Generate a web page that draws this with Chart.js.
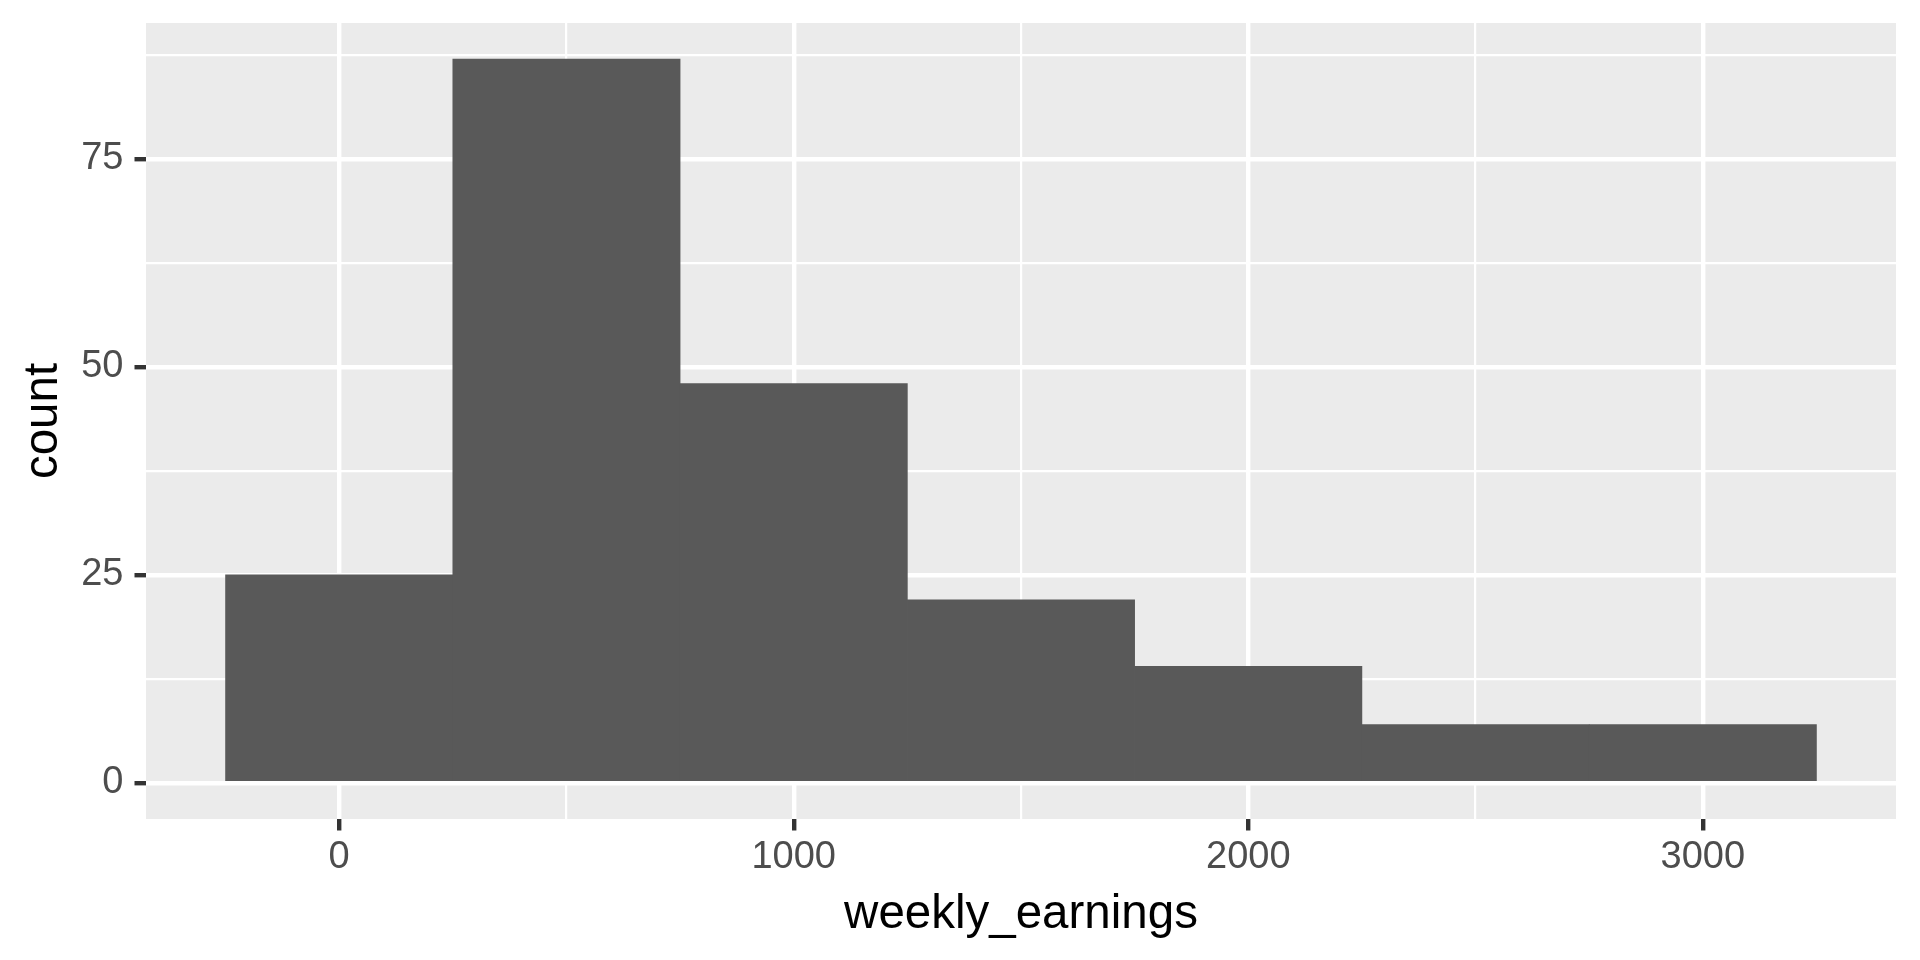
<!DOCTYPE html>
<html>
<head>
<meta charset="utf-8">
<title>weekly_earnings histogram</title>
<script src="https://cdn.jsdelivr.net/npm/chart.js@4.4.1/dist/chart.umd.min.js"></script>
<style>
	html, body { margin: 0; padding: 0; background: #ffffff; }
	#wrap { width: 1920px; height: 960px; }
</style>
</head>
<body>
<div id="wrap"><canvas id="chart-hist" width="1920" height="960"></canvas></div>
<script>
// Histogram bins (binwidth 500)
const BIN_WIDTH = 500;
const binCenters = [0, 500, 1000, 1500, 2000, 2500, 3000];
const binCounts = [25, 87, 48, 22, 14, 7, 7];

// Axis breaks
const xMajor = [0, 1000, 2000, 3000];
const xMinor = [500, 1500, 2500];
const yMajor = [0, 25, 50, 75];
const yMinor = [12.5, 37.5, 62.5, 87.5];

const FONT = "'Liberation Sans', Arial, sans-serif";
const PANEL_BG = "#EBEBEB";
const BAR_FILL = "#595959";

// ggplot-style 5% expansion of the data range
const xLo = binCenters[0] - BIN_WIDTH / 2;
const xHi = binCenters[binCenters.length - 1] + BIN_WIDTH / 2;
const xPad = (xHi - xLo) * 0.05;
const yHi = Math.max(...binCounts);
const yPad = yHi * 0.05;

const panelBackground = {
	id: "panelBackground",
	beforeDraw(chart) {
		const { ctx, chartArea: a } = chart;
		ctx.save();
		ctx.fillStyle = PANEL_BG;
		ctx.fillRect(a.left, a.top, a.right - a.left, a.bottom - a.top);
		ctx.restore();
	},
};

const isMajor = (list, v) => list.some((m) => Math.abs(m - v) < 1e-9);

const CHART_CONFIG = {
	type: "bar",
	data: {
		datasets: [
			{
				label: "count",
				data: binCenters.map((x, i) => ({ x: x, y: binCounts[i] })),
				backgroundColor: BAR_FILL,
				borderWidth: 0,
				barPercentage: 1,
				categoryPercentage: 1,
			},
		],
	},
	options: {
		responsive: false,
		devicePixelRatio: 1,
		animation: false,
		layout: {
			padding: { left: 0, right: 24, top: 23, bottom: 0 },
		},
		plugins: {
			legend: { display: false },
			title: { display: false },
			tooltip: { enabled: false },
		},
		scales: {
			x: {
				type: "linear",
				min: xLo - xPad,
				max: xHi + xPad,
				offset: false,
				border: { display: false },
				afterBuildTicks: (s) => {
					s.ticks = [...xMajor, ...xMinor].sort((a, b) => a - b).map((v) => ({ value: v }));
				},
				afterFit: (s) => {
					s.height = 141;
					s.paddingLeft = 0;
					s.paddingRight = 0;
				},
				grid: {
					offset: false,
					color: "#FFFFFF",
					lineWidth: (c) => (isMajor(xMajor, c.tick.value) ? 4.4 : 2.2),
					tickLength: 11.5,
					tickWidth: 4.4,
					tickColor: (c) => (isMajor(xMajor, c.tick.value) ? "#333333" : "rgba(0,0,0,0)"),
				},
				ticks: {
					autoSkip: false,
					maxRotation: 0,
					padding: 4,
					color: "#4D4D4D",
					font: { family: FONT, size: 38 },
					callback: (v) => (isMajor(xMajor, v) ? String(v) : ""),
				},
				title: {
					display: true,
					text: "weekly_earnings",
					color: "#000000",
					font: { family: FONT, size: 47.5 },
					padding: { top: 0, bottom: 17 },
				},
			},
			y: {
				type: "linear",
				min: -yPad,
				max: yHi + yPad,
				border: { display: false },
				afterBuildTicks: (s) => {
					s.ticks = [...yMajor, ...yMinor].sort((a, b) => a - b).map((v) => ({ value: v }));
				},
				afterFit: (s) => {
					s.width = 146;
					s.paddingTop = 0;
					s.paddingBottom = 0;
				},
				grid: {
					color: "#FFFFFF",
					lineWidth: (c) => (isMajor(yMajor, c.tick.value) ? 4.4 : 2.2),
					tickLength: 11.5,
					tickWidth: 4.4,
					tickColor: (c) => (isMajor(yMajor, c.tick.value) ? "#333333" : "rgba(0,0,0,0)"),
				},
				ticks: {
					autoSkip: false,
					padding: 11,
					color: "#4D4D4D",
					font: { family: FONT, size: 38 },
					callback: (v) => (isMajor(yMajor, v) ? String(v) : ""),
				},
				title: {
					display: true,
					text: "count",
					color: "#000000",
					font: { family: FONT, size: 47.5 },
					padding: { top: 15.5, bottom: 0 },
				},
			},
		},
	},
	plugins: [panelBackground],
};

const CHART_WRAPPER = document.getElementById("chart-hist");
let histChart;
if (CHART_WRAPPER) {
	histChart = new Chart(CHART_WRAPPER, CHART_CONFIG);
}
</script>
</body>
</html>
